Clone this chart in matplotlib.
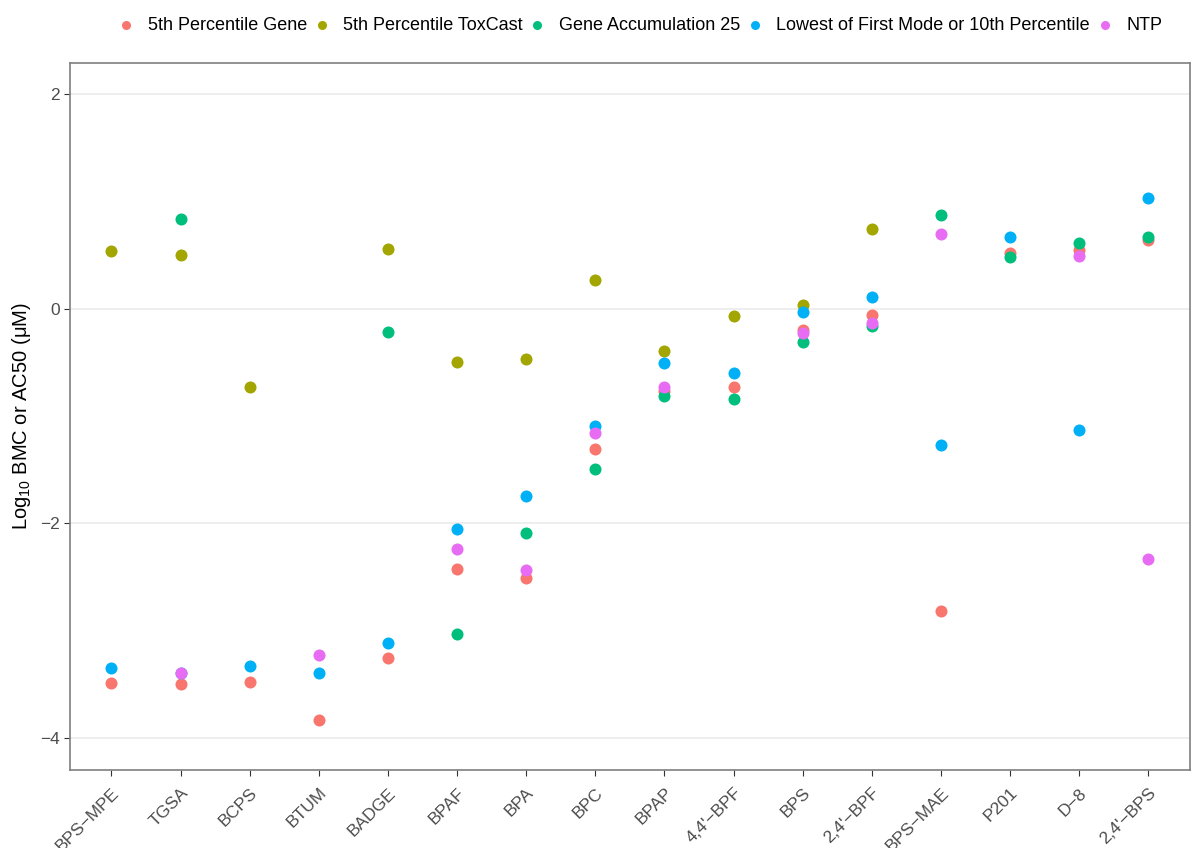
import numpy as np
import matplotlib.pyplot as plt

plt.rcParams['font.family'] = ['Liberation Sans', 'DejaVu Sans']
plt.rcParams['mathtext.fontset'] = 'custom'
plt.rcParams['mathtext.rm'] = 'Liberation Sans'
plt.rcParams['mathtext.it'] = 'Liberation Sans:italic'

chemicals = ["BPS-MPE", "TGSA", "BCPS", "BTUM", "BADGE", "BPAF", "BPA", "BPC",
             "BPAP", "4,4'-BPF", "BPS", "2,4'-BPF", "BPS-MAE", "P201", "D-8", "2,4'-BPS"]

nan = np.nan
gene_5th = [-3.49, -3.50, -3.48, -3.83, -3.26, -2.43, -2.51, -1.31,
            -0.77, -0.73, -0.20, -0.06, -2.82, 0.52, 0.55, 0.64]
toxcast_5th = [0.54, 0.50, -0.73, nan, 0.56, -0.50, -0.47, 0.27,
               -0.39, -0.07, 0.03, 0.74, nan, nan, nan, nan]
gene_acc25 = [nan, 0.84, nan, nan, -0.22, -3.03, -2.09, -1.49,
              -0.81, -0.84, -0.31, -0.16, 0.87, 0.48, 0.61, 0.67]
lowest_mode = [-3.35, -3.40, -3.33, -3.40, -3.12, -2.05, -1.75, -1.09,
               -0.51, -0.60, -0.03, 0.11, -1.27, 0.67, -1.13, 1.03]
ntp = [nan, -3.40, nan, -3.23, nan, -2.24, -2.44, -1.16,
       -0.73, nan, -0.23, -0.13, 0.70, nan, 0.49, -2.33]

series = [("5th Percentile Gene", gene_5th, "#F8766D"),
          ("5th Percentile ToxCast", toxcast_5th, "#A3A500"),
          ("Gene Accumulation 25", gene_acc25, "#00BF7D"),
          ("Lowest of First Mode or 10th Percentile", lowest_mode, "#00B0F6"),
          ("NTP", ntp, "#E76BF3")]

fig = plt.figure(figsize=(11.92, 8.48), dpi=100)
ax = fig.add_axes([0.0587, 0.092, 0.9395, 0.8337])

x = np.arange(len(chemicals))
for name, vals, col in series:
    ax.scatter(x, vals, s=75, color=col, label=name, zorder=3, linewidths=0)

ax.set_xlim(-0.6, len(chemicals) - 0.4)
ax.set_ylim(-4.3, 2.29)
ax.set_yticks([-4, -2, 0, 2])
ax.set_yticklabels(['−4', '−2', '0', '2'])
ax.grid(axis='y', color='#EBEBEB', linewidth=1.2, zorder=0)
ax.set_xticks(x)
ax.set_xticklabels([c.replace('-', '−') for c in chemicals], rotation=45,
                   ha='right', rotation_mode='anchor', fontsize=12.5, color='#4D4D4D')
ax.tick_params(axis='y', labelsize=12.5, labelcolor='#4D4D4D', length=4, color='#333333')
ax.tick_params(axis='x', length=4, color='#333333', pad=7)
for sp in ax.spines.values():
    sp.set_color('#7F7F7F')
    sp.set_linewidth(1.2)
ax.set_ylabel(r'Log$_{10}$ BMC or AC50 (μM)', fontsize=14.5, labelpad=5)

ax.legend(loc='center', bbox_to_anchor=(0.508, 1.053), ncol=5, frameon=False,
          fontsize=13, handletextpad=0.6, columnspacing=0.2, handlelength=1.2,
          markerscale=0.75)

fig.savefig('out.png', dpi=100)
